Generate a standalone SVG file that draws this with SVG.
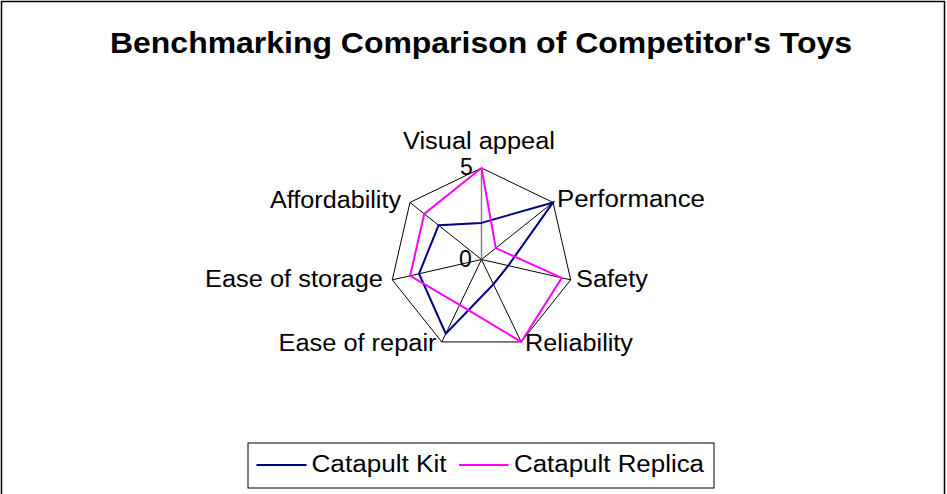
<svg xmlns="http://www.w3.org/2000/svg" width="947" height="494" viewBox="0 0 947 494">
  <style>
    text { font-family: "Liberation Sans", Arial, sans-serif; fill: #000; }
    .title { font-size: 30px; font-weight: bold; }
    .lbl { font-size: 23px; }
    .grid { fill: none; stroke: #000; stroke-width: 1; }
    .spoke { stroke: #000; stroke-width: 1; }
    .kit { fill: none; stroke: #000080; stroke-width: 2; stroke-linejoin: miter; }
    .rep { fill: none; stroke: #ff00ff; stroke-width: 2; stroke-linejoin: miter; }
  </style>

  <!-- chart area -->
  <rect x="0" y="0" width="947" height="494" fill="#fff"/>
  <rect x="1.5" y="1.5" width="943" height="510" fill="none" stroke="#000" stroke-width="1.5"/>

  <text class="title" x="110" y="53" textLength="742" lengthAdjust="spacingAndGlyphs">Benchmarking Comparison of Competitor's Toys</text>

  <!-- radar grid: outer heptagon and spokes, centre (481.5,259.5), radius 91.5 -->
  <g id="grid">
    <polygon class="grid" points="481.5,168 553.04,202.45 570.7,279.86 521.2,341.94 441.8,341.94 392.3,279.86 409.96,202.45"/>
    <line class="spoke" x1="481.5" y1="259.5" x2="553.04" y2="202.45"/>
    <line class="spoke" x1="481.5" y1="259.5" x2="570.7" y2="279.86"/>
    <line class="spoke" x1="481.5" y1="259.5" x2="521.2" y2="341.94"/>
    <line class="spoke" x1="481.5" y1="259.5" x2="441.8" y2="341.94"/>
    <line class="spoke" x1="481.5" y1="259.5" x2="392.3" y2="279.86"/>
    <line class="spoke" x1="481.5" y1="259.5" x2="409.96" y2="202.45"/>
    <!-- value axis -->
    <line x1="481.5" y1="259.5" x2="481.5" y2="168" stroke="#808080" stroke-width="1.5"/>
    <text class="lbl" x="460" y="174.5">5</text>
    <text class="lbl" x="459" y="267">0</text>
  </g>

  <!-- category labels -->
  <g id="axis-labels">
    <text class="lbl" x="403" y="149" textLength="152" lengthAdjust="spacingAndGlyphs">Visual appeal</text>
    <text class="lbl" x="557" y="207" textLength="148" lengthAdjust="spacingAndGlyphs">Performance</text>
    <text class="lbl" x="576" y="287" textLength="72" lengthAdjust="spacingAndGlyphs">Safety</text>
    <text class="lbl" x="525" y="350.5" textLength="108" lengthAdjust="spacingAndGlyphs">Reliability</text>
    <text class="lbl" x="278.5" y="350.5" textLength="158" lengthAdjust="spacingAndGlyphs">Ease of repair</text>
    <text class="lbl" x="205" y="287" textLength="178" lengthAdjust="spacingAndGlyphs">Ease of storage</text>
    <text class="lbl" x="270" y="207.5" textLength="131" lengthAdjust="spacingAndGlyphs">Affordability</text>
  </g>

  <!-- data series -->
  <g id="series">
    <polygon id="catapult-kit" class="kit" points="481.5,222.9 553.04,202.45 508.26,265.61 493.41,284.23 445.77,333.7 419.06,273.75 438.58,225.27"/>
    <polygon id="catapult-replica" class="rep" points="481.5,168 495.81,248.09 561.78,277.82 521.2,341.94 459.66,304.85 410.14,275.79 424.27,213.86"/>
  </g>

  <!-- legend -->
  <g id="legend">
    <rect x="248" y="443" width="466" height="45" fill="#fff" stroke="#000" stroke-width="1"/>
    <line x1="256.5" y1="465" x2="306.5" y2="465" stroke="#000080" stroke-width="2"/>
    <text class="lbl" x="311.5" y="471.5" textLength="135" lengthAdjust="spacingAndGlyphs">Catapult Kit</text>
    <line x1="459" y1="465" x2="508.5" y2="465" stroke="#ff00ff" stroke-width="2"/>
    <text class="lbl" x="514" y="471.5" textLength="190" lengthAdjust="spacingAndGlyphs">Catapult Replica</text>
  </g>
</svg>
